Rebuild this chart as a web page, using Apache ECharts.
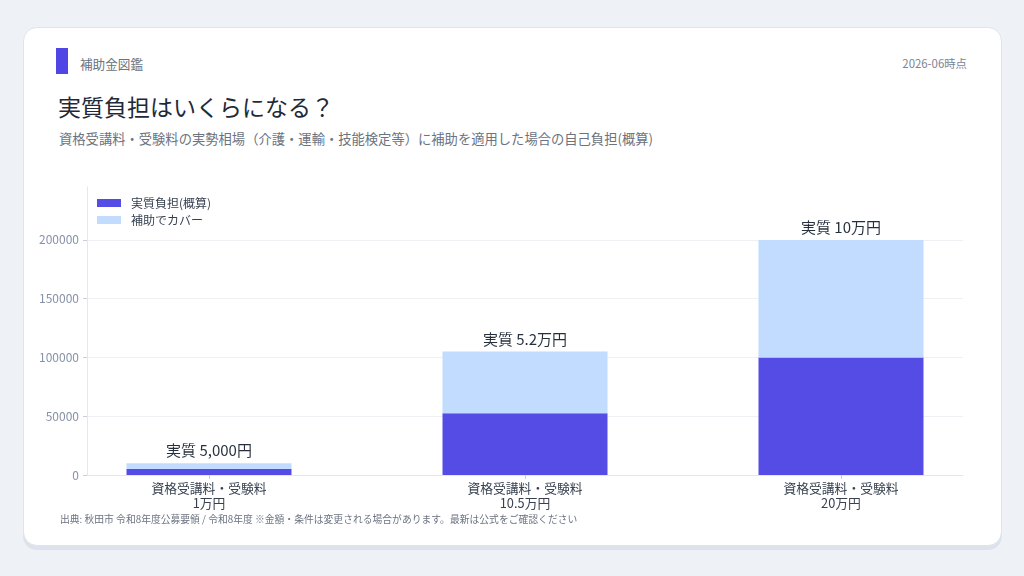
<!DOCTYPE html>
<html lang="ja">
<head>
<meta charset="utf-8">
<script src="https://cdn.jsdelivr.net/npm/echarts@6/dist/echarts.min.js"></script>
<style>
  html, body { margin: 0; padding: 0; width: 1024px; height: 576px; background: #eef1f6; overflow: hidden;
    font-family: "Noto Sans CJK JP", "Noto Sans", sans-serif; }
  .card { position: absolute; left: 23px; top: 27px; width: 977px; height: 517px; background: #fff;
    border: 1px solid #dfe4ec; border-radius: 14px; box-shadow: 0 4px 0 #dce3ec; }
  .t { position: absolute; white-space: nowrap; line-height: 1; }
  #accent { position: absolute; left: 56px; top: 48px; width: 12px; height: 26px; background: #4f46e5; }
  #chart { position: absolute; left: 0; top: 0; width: 1024px; height: 576px; }
</style>
</head>
<body>
<div class="card"></div>
<div id="accent"></div>
<div class="t" style="left:80px; top:58px; font-size:12.6px; color:#6b7280;">補助金図鑑</div>
<div class="t" style="right:57px; top:58px; font-size:11.4px; color:#7b8494;">2026-06時点</div>
<div class="t" style="left:58px; top:95px; font-size:23px; color:#1f2937;">実質負担はいくらになる？</div>
<div class="t" style="left:59px; top:132px; font-size:13.3px; color:#6b7280;">資格受講料・受験料の実勢相場（介護・運輸・技能検定等）に補助を適用した場合の自己負担(概算)</div>
<div id="chart"></div>
<div class="t" style="left:60px; top:515px; font-size:9.8px; color:#6b7280;">出典: 秋田市 令和8年度公募要領 / 令和8年度 ※金額・条件は変更される場合があります。最新は公式をご確認ください</div>
<script>
// ---- data ----
const categories = ['資格受講料・受験料\n1万円', '資格受講料・受験料\n10.5万円', '資格受講料・受験料\n20万円'];
const netBurden = [5000, 52500, 100000];
const subsidyCover = [5000, 52500, 100000];
const netLabels = ['実質 5,000円', '実質 5.2万円', '実質 10万円'];
const yTicks = [0, 50000, 100000, 150000, 200000];
const seriesNames = ['実質負担(概算)', '補助でカバー'];

const FONT = '"Noto Sans CJK JP", "Noto Sans", sans-serif';
const idx = categories.map((_, i) => i);

const chart = echarts.init(document.getElementById('chart'), null, { renderer: 'canvas' });
chart.setOption({
  animation: false,
  textStyle: { fontFamily: FONT },
  grid: { left: 87, right: 61, top: 187, bottom: 101, containLabel: false },
  legend: {
    orient: 'vertical', left: 97, top: 197, padding: 0, itemWidth: 24, itemHeight: 8, itemGap: 5,
    icon: 'rect',
    textStyle: { fontSize: 12, color: '#374151', fontFamily: FONT, padding: [0, 0, 0, 5] },
    data: seriesNames
  },
  xAxis: {
    type: 'value', min: -0.3861, max: categories.length - 1 + 0.3861,
    splitLine: { show: false },
    axisLine: { show: true, onZero: false, lineStyle: { color: '#e3e7ee' } },
    axisTick: { show: true, customValues: idx, length: 4, lineStyle: { color: '#c9cfd9' } },
    axisLabel: {
      customValues: idx, margin: 6, fontSize: 12.8, lineHeight: 14.5, color: '#374151', fontFamily: FONT,
      formatter: v => categories[Math.round(v)]
    }
  },
  yAxis: {
    type: 'value', min: 0, max: 245000,
    axisLine: { show: true, onZero: false, lineStyle: { color: '#e3e7ee' } },
    axisTick: { show: true, customValues: yTicks, length: 4, lineStyle: { color: '#c9cfd9' } },
    axisLabel: { customValues: yTicks, margin: 8, fontSize: 12, color: '#8792a8', fontFamily: FONT,
      formatter: v => String(v) },
    splitLine: { show: true, lineStyle: { color: '#eef0f4' } }
  },
  series: [
    {
      name: seriesNames[0], type: 'bar', stack: 'total', barWidth: 165,
      encode: { x: 1, y: 0 },
      itemStyle: { color: '#4f46e5', opacity: 0.97 },
      data: netBurden.map((v, i) => [v, i])
    },
    {
      name: seriesNames[1], type: 'bar', stack: 'total', barWidth: 165,
      encode: { x: 1, y: 0 },
      itemStyle: { color: '#bfdbfe', opacity: 0.97 },
      label: {
        show: true, position: 'top', distance: 5, fontSize: 15, color: '#1f2937', fontFamily: FONT,
        formatter: p => netLabels[p.dataIndex]
      },
      data: subsidyCover.map((v, i) => [v, i])
    }
  ]
});
</script>
</body>
</html>
